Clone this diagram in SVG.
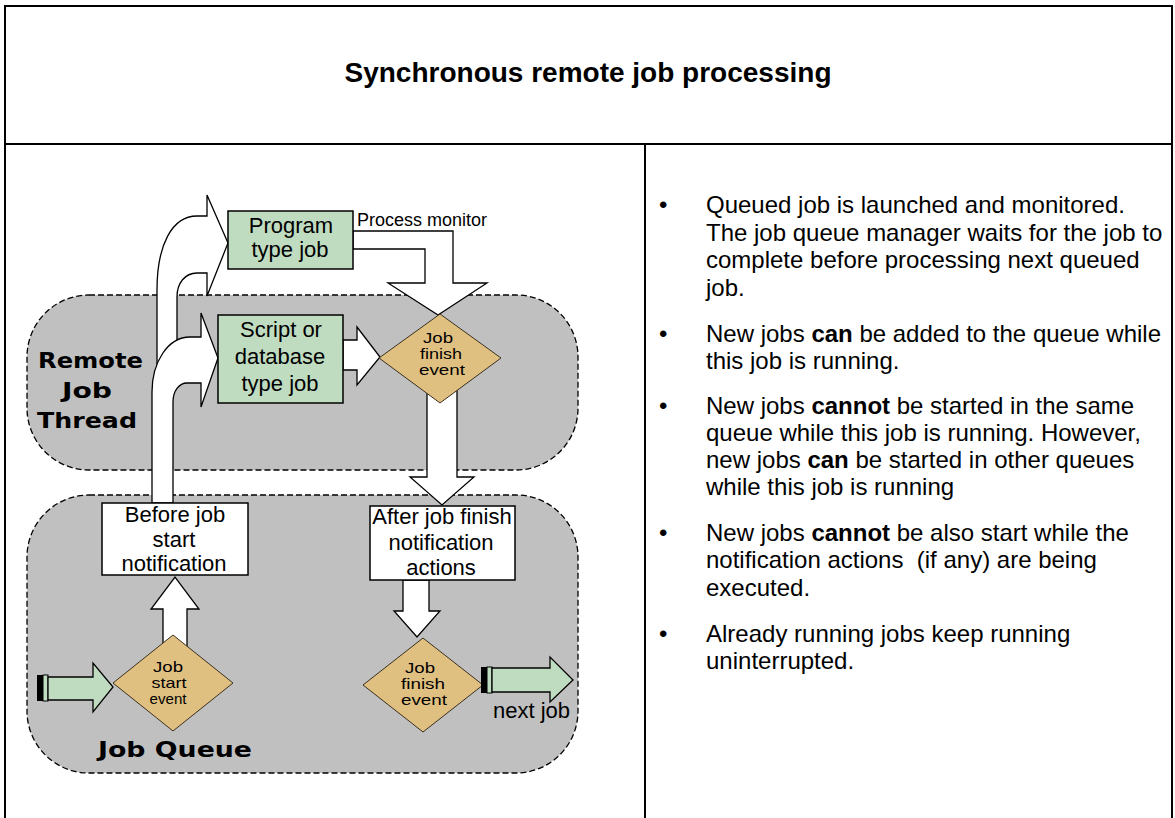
<svg xmlns="http://www.w3.org/2000/svg" width="1175" height="818" viewBox="0 0 1175 818">
<style>
.frame{stroke:#000;stroke-width:2;fill:none}
.region{fill:#c0c0c0;stroke:#000;stroke-width:1.3;stroke-dasharray:6 3}
.arrow{fill:#fff;stroke:#000;stroke-width:1.3;stroke-linejoin:miter}
.garrow{fill:#c0dcc0;stroke:#000;stroke-width:1.3}
.job{fill:#c0dcc0;stroke:#000;stroke-width:1.5}
.note{fill:#fff;stroke:#000;stroke-width:1.5}
.event{fill:#e0c080;stroke:#3a3020;stroke-width:1}
.lbl{font-family:"Liberation Sans",Arial,sans-serif;font-size:22px;fill:#000;text-anchor:middle}
.ev{font-family:"Liberation Sans",Arial,sans-serif;font-size:15px;fill:#000;text-anchor:middle}
.small{font-family:"Liberation Sans",Arial,sans-serif;font-size:18px;fill:#000}
.big{font-family:"DejaVu Sans",Verdana,sans-serif;font-weight:bold;font-size:22px;fill:#000}
.body{font-family:"Liberation Sans",Arial,sans-serif;font-size:24px;fill:#000}
.b{font-weight:bold}
.title{font-family:"Liberation Sans",Arial,sans-serif;font-size:28px;font-weight:bold;text-anchor:middle;fill:#000}
</style>

<rect x="0" y="0" width="1175" height="818" fill="#fff"/>

<g id="table">
<line class="frame" x1="5" y1="6" x2="1172" y2="6"/>
<line class="frame" x1="5" y1="5" x2="5" y2="818"/>
<line class="frame" x1="1172" y1="5" x2="1172" y2="818"/>
<line class="frame" x1="5" y1="144" x2="1172" y2="144"/>
<line class="frame" x1="645" y1="144" x2="645" y2="818"/>
<text class="title" x="588" y="82">Synchronous remote job processing</text>
</g>

<g id="remote-job-thread">
<rect class="region" x="27" y="295" width="551" height="175" rx="62" ry="62"/>
<text class="big" x="38" y="368" textLength="105" lengthAdjust="spacingAndGlyphs">Remote</text>
<text class="big" x="62" y="398" textLength="50" lengthAdjust="spacingAndGlyphs">Job</text>
<text class="big" x="37" y="428" textLength="100" lengthAdjust="spacingAndGlyphs">Thread</text>
</g>

<g id="job-queue">
<rect class="region" x="27" y="495" width="551" height="278" rx="62" ry="62"/>
<text class="big" x="98" y="757" textLength="154" lengthAdjust="spacingAndGlyphs">Job Queue</text>
</g>

<g id="connectors">
<path id="to-program" class="arrow" d="M157 380 L157 290 C157 245 172 216 197 216 L207 216 L207 195 L228 243 L207 296 L207 273 L197 273 C185 273 177 283 177 297 L177 380 Z"/>
<path id="to-script" class="arrow" d="M152 503 L152 392 C152 362 168 337 190 337 L201 337 L201 313 L218 358 L201 407 L201 383 L187 383 C179 383 173 391 173 402 L173 503 Z"/>
<path id="process-monitor" class="arrow" d="M353 231 L453 231 L453 283 L487 283 L438 315 L388 283 L425 283 L425 249 L353 249 Z"/>
<text class="small" x="357" y="226">Process monitor</text>
<path id="script-to-finish" class="arrow" d="M343 340 L357 340 L357 327 L380 357 L357 385 L357 370 L343 370 Z"/>
<path id="finish-to-after" class="arrow" d="M427 390 L457 390 L457 477 L474 477 L442 505 L410 477 L427 477 Z"/>
<path id="start-to-before" class="arrow" d="M163 650 L163 609 L151 609 L175 577 L199 609 L187 609 L187 650 Z"/>
<path id="after-to-finish" class="arrow" d="M403 580 L429 580 L429 611 L440 611 L417 637 L394 611 L403 611 Z"/>
<g id="queue-input">
<rect x="37" y="675" width="6" height="26" fill="#000"/>
<rect x="43" y="675" width="5" height="26" fill="#c0dcc0" stroke="#000" stroke-width="1"/>
<path class="garrow" d="M48 677 L93 677 L93 663 L113 687 L93 712 L93 700 L48 700 Z"/>
</g>
</g>

<g id="program-job">
<rect class="job" x="228" y="211" width="125" height="58"/>
<text class="lbl" x="291" y="233">Program</text>
<text class="lbl" x="290" y="257">type job</text>
</g>

<g id="script-job">
<rect class="job" x="218" y="315" width="125" height="88"/>
<text class="lbl" x="281" y="337">Script or</text>
<text class="lbl" x="280" y="364">database</text>
<text class="lbl" x="280" y="391">type job</text>
</g>

<g id="job-finish-event-thread">
<polygon class="event" points="440,314 501,358 440,403 379,358"/>
<text class="ev" x="438" y="343" textLength="30" lengthAdjust="spacingAndGlyphs">Job</text>
<text class="ev" x="441" y="359" textLength="42" lengthAdjust="spacingAndGlyphs">finish</text>
<text class="ev" x="442" y="375" textLength="46" lengthAdjust="spacingAndGlyphs">event</text>
</g>

<g id="before-job-start-notification">
<rect class="note" x="102" y="503" width="146" height="72"/>
<text class="lbl" x="175" y="522">Before job</text>
<text class="lbl" x="174" y="547">start</text>
<text class="lbl" x="174" y="571">notification</text>
</g>

<g id="after-job-finish-notification">
<rect class="note" x="370" y="506" width="145" height="74"/>
<text class="lbl" x="442" y="524">After job finish</text>
<text class="lbl" x="441" y="550">notification</text>
<text class="lbl" x="441" y="575">actions</text>
</g>

<g id="job-start-event">
<polygon class="event" points="173,635 233,683 173,731 113,683"/>
<text class="ev" x="168" y="672" textLength="30" lengthAdjust="spacingAndGlyphs">Job</text>
<text class="ev" x="169" y="688" textLength="35" lengthAdjust="spacingAndGlyphs">start</text>
<text class="ev" x="168" y="704" textLength="37" lengthAdjust="spacingAndGlyphs">event</text>
</g>

<g id="job-finish-event-queue">
<polygon class="event" points="423,638 483,685 423,732 363,685"/>
<text class="ev" x="420" y="673" textLength="30" lengthAdjust="spacingAndGlyphs">Job</text>
<text class="ev" x="423" y="689" textLength="44" lengthAdjust="spacingAndGlyphs">finish</text>
<text class="ev" x="424" y="705" textLength="46" lengthAdjust="spacingAndGlyphs">event</text>
</g>

<g id="next-job">
<rect x="481" y="667" width="6" height="26" fill="#000"/>
<rect x="487" y="667" width="5" height="26" fill="#c0dcc0" stroke="#000" stroke-width="1"/>
<path class="garrow" d="M492 668 L550 668 L550 657 L573 680 L550 702 L550 692 L492 692 Z"/>
<text class="lbl" x="493" y="718" style="text-anchor:start">next job</text>
</g>

<g id="notes">
<text class="body" x="659" y="213">•</text>
<text class="body" x="706" y="213">Queued job is launched and monitored.</text>
<text class="body" x="706" y="241">The job queue manager waits for the job to</text>
<text class="body" x="706" y="268">complete before processing next queued</text>
<text class="body" x="706" y="296">job.</text>

<text class="body" x="659" y="342">•</text>
<text class="body" x="706" y="342">New jobs <tspan class="b">can</tspan> be added to the queue while</text>
<text class="body" x="706" y="369">this job is running.</text>

<text class="body" x="659" y="414">•</text>
<text class="body" x="706" y="414">New jobs <tspan class="b">cannot</tspan> be started in the same</text>
<text class="body" x="706" y="441">queue while this job is running. However,</text>
<text class="body" x="706" y="468">new jobs <tspan class="b">can</tspan> be started in other queues</text>
<text class="body" x="706" y="495">while this job is running</text>

<text class="body" x="659" y="541">•</text>
<text class="body" x="706" y="541">New jobs <tspan class="b">cannot</tspan> be also start while the</text>
<text class="body" x="706" y="568" style="white-space:pre">notification actions  (if any) are being</text>
<text class="body" x="706" y="596">executed.</text>

<text class="body" x="659" y="642">•</text>
<text class="body" x="706" y="642">Already running jobs keep running</text>
<text class="body" x="706" y="669">uninterrupted.</text>
</g>
</svg>
